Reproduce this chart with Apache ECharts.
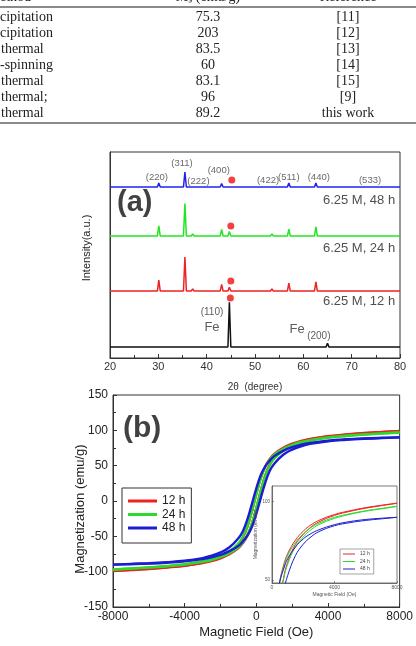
<!DOCTYPE html>
<html>
<head>
<meta charset="utf-8">
<script src="https://cdn.jsdelivr.net/npm/echarts@6/dist/echarts.min.js"></script>
<style>
  html, body { margin: 0; padding: 0; background: #fff; }
  #main { width: 416px; height: 646px; }
</style>
</head>
<body>
<div id="main"></div>
<script>
// table (cut at the left edge in the source)
var methods = ['cipitation', 'cipitation', 'thermal', '-spinning', 'thermal', 'thermal;', 'thermal'];
var msValues = ['75.3', '203', '83.5', '60', '83.1', '96', '89.2'];
var refs = ['[11]', '[12]', '[13]', '[14]', '[15]', '[9]', 'this work'];

// (a) XRD
var peakPos = [30.1, 35.5, 37.1, 43.1, 44.7, 53.5, 57.0, 62.6, 74.0];
var peaks48 = [1.9, 7.3, 0.7, 1.7, 0.3, 0.7, 1.9, 1.9, 0.5];
var peaks24 = [4.9, 15.8, 1.0, 3.2, 2.2, 1.0, 3.4, 4.4, 0.7];
var peaks12 = [5.3, 16.5, 1.0, 3.2, 1.9, 1.0, 3.9, 4.4, 0.7];
var fePos = [44.7, 65.0];
var feHeights = [21.8, 1.9];
var baselines = [83.0, 59.2, 32.5, 5.3]; // 48 h, 24 h, 12 h, Fe
var dotX = [45.2, 45.0, 45.0, 44.9];
var dotY = [86.4, 64.1, 37.4, 29.1];
var hklLabels = ['(220)', '(311)', '(222)', '(400)', '(422)', '(511)', '(440)', '(533)'];
var hklX = [29.7, 34.9, 38.3, 42.5, 52.7, 57.0, 63.2, 73.8];
var hklY = [87.9, 94.7, 85.9, 91.3, 86.4, 87.9, 87.9, 86.4];
var sampleLabels = ['6.25 M, 48 h', '6.25 M, 24 h', '6.25 M, 12 h'];
var sampleLabelY = [76.7, 53.4, 27.7];

// (b) M-H loops
var field = [-8000, -7000, -6000, -5000, -4000, -3000, -2500, -2000, -1500, -1000, -750, -500, -250, 0,
  250, 500, 750, 1000, 1500, 2000, 2500, 3000, 4000, 5000, 6000, 7000, 8000];
var red12Down = [-98.9, -97.4, -95.8, -93.8, -91.2, -87.0, -83.8, -79.0, -72.7, -61.2, -51.7, -36.6, -14.9, 9.9,
  32.7, 49.3, 59.6, 66.7, 75.4, 81.1, 85.2, 88.0, 91.8, 94.2, 96.2, 97.7, 99.1];
var red12Up = [-99.1, -97.7, -96.2, -94.2, -91.8, -88.0, -85.2, -81.1, -75.4, -66.7, -59.6, -49.3, -32.7, -9.9,
  14.9, 36.6, 51.7, 61.2, 72.7, 79.0, 83.8, 87.0, 91.2, 93.8, 95.8, 97.4, 98.9];
var green24Down = [-96.9, -95.4, -93.9, -91.9, -89.3, -85.3, -82.1, -77.4, -71.2, -59.9, -50.6, -35.9, -14.6, 9.7,
  32.0, 48.3, 58.4, 65.4, 73.9, 79.4, 83.5, 86.2, 90.0, 92.3, 94.2, 95.7, 97.1];
var green24Up = [-97.1, -95.7, -94.2, -92.3, -90.0, -86.2, -83.5, -79.4, -73.9, -65.4, -58.4, -48.3, -32.0, -9.7,
  14.6, 35.9, 50.6, 59.9, 71.2, 77.4, 82.1, 85.3, 89.3, 91.9, 93.9, 95.4, 96.9];
var blue48Down = [-90.0, -89.0, -88.0, -86.6, -84.6, -80.8, -77.5, -72.8, -65.5, -52.7, -42.7, -26.1, -4.5, 18.0,
  36.9, 49.1, 57.1, 63.5, 71.0, 76.2, 79.6, 82.0, 85.3, 87.3, 88.6, 89.4, 90.0];
var blue48Up = [-90.0, -89.4, -88.6, -87.3, -85.3, -82.0, -79.6, -76.2, -71.0, -63.5, -57.1, -49.1, -36.9, -18.0,
  4.5, 26.1, 42.7, 52.7, 65.5, 72.8, 77.5, 80.8, 84.6, 86.6, 88.0, 89.0, 90.0];
var loopNames = ['12 h', '24 h', '48 h'];
var loopColors = ['#ee2020', '#2ed82e', '#1c1cd2'];

var FONT = 'Liberation Sans, Arial, sans-serif';

function pattern(base, pos, hts) {
  var pts = [[20, base]];
  for (var i = 0; i < pos.length; i++) {
    pts.push([pos[i] - 0.3, base], [pos[i], base + hts[i]], [pos[i] + 0.3, base]);
  }
  pts.push([80, base]);
  return pts;
}
function pairs(xs, ys) {
  return xs.map(function (x, i) { return [x, ys[i]]; });
}
function plain(v) { return String(v); }

var chart = echarts.init(document.getElementById('main'));

var series = [];
var xrdColors = ['#2222ee', '#22e622', '#ee2222', '#111111'];
series.push({ type: 'line', xAxisIndex: 0, yAxisIndex: 0, data: pattern(baselines[3], fePos, feHeights),
  symbol: 'none', lineStyle: { color: xrdColors[3], width: 1.5 }, silent: true });
series.push({ type: 'line', xAxisIndex: 0, yAxisIndex: 0, data: pattern(baselines[2], peakPos, peaks12),
  symbol: 'none', lineStyle: { color: xrdColors[2], width: 1.5 }, silent: true });
series.push({ type: 'line', xAxisIndex: 0, yAxisIndex: 0, data: pattern(baselines[1], peakPos, peaks24),
  symbol: 'none', lineStyle: { color: xrdColors[1], width: 1.5 }, silent: true });
series.push({ type: 'line', xAxisIndex: 0, yAxisIndex: 0, data: pattern(baselines[0], peakPos, peaks48),
  symbol: 'none', lineStyle: { color: xrdColors[0], width: 1.5 }, silent: true });
series.push({ type: 'scatter', xAxisIndex: 0, yAxisIndex: 0, data: pairs(dotX, dotY),
  symbolSize: 7, itemStyle: { color: '#ee1111' }, silent: true });

function textSeries(xi, items, label) {
  return { type: 'scatter', xAxisIndex: xi, yAxisIndex: xi, symbolSize: 0, silent: true,
    data: items, label: Object.assign({ show: true, formatter: '{b}', fontFamily: FONT }, label) };
}
series.push(textSeries(0, hklLabels.map(function (t, i) { return { name: t, value: [hklX[i], hklY[i]] }; }),
  { position: 'inside', fontSize: 9.5, color: '#444' }));
series.push(textSeries(0, sampleLabels.map(function (t, i) { return { name: t, value: [79.0, sampleLabelY[i]] }; }),
  { position: 'left', distance: 0, fontSize: 13, color: '#222' }));
series.push(textSeries(0, [{ name: '(110)', value: [41.1, 22.3] }, { name: '(200)', value: [63.2, 10.7] }],
  { position: 'inside', fontSize: 10, color: '#333' }));
series.push(textSeries(0, [{ name: 'Fe', value: [41.1, 15.0] }, { name: 'Fe', value: [58.7, 14.1] }],
  { position: 'inside', fontSize: 13, color: '#333' }));
series.push(textSeries(0, [{ name: '(a)', value: [21.45, 75.2] }],
  { position: 'right', distance: 0, fontSize: 29, fontWeight: 'bold', color: '#111' }));
series.push(textSeries(1, [{ name: '(b)', value: [-7446, 102] }],
  { position: 'right', distance: 0, fontSize: 30, fontWeight: 'bold', color: '#111' }));

var downs = [red12Down, green24Down, blue48Down];
var ups = [red12Up, green24Up, blue48Up];
[1, 2].forEach(function (gi) {
  for (var k = 0; k < 3; k++) {
    [downs[k], ups[k]].forEach(function (ys) {
      series.push({ type: 'line', name: loopNames[k], xAxisIndex: gi, yAxisIndex: gi,
        data: pairs(field, ys), smooth: 0.4, symbol: 'none', silent: true, z: gi === 2 ? 8 : 2,
        itemStyle: { color: loopColors[k] },
        lineStyle: { color: loopColors[k], width: gi === 1 ? 2.4 : 1 } });
    });
  }
});

var tableGraphics = [
  { type: 'line', shape: { x1: 0, y1: 7, x2: 416, y2: 7 }, style: { stroke: '#8a8a8a', lineWidth: 2 } },
  { type: 'line', shape: { x1: 0, y1: 123, x2: 416, y2: 123 }, style: { stroke: '#8a8a8a', lineWidth: 2 } }
];
var headers = [['ethod', 0, 'left'], ['M\u209B (emu/g)', 208, 'center'], ['Reference', 348, 'center']];
headers.forEach(function (h) {
  tableGraphics.push({ type: 'text', x: h[1], y: -3, style: { text: h[0], font: '14px Liberation Serif',
    fill: '#222', align: h[2], verticalAlign: 'middle', textAlign: h[2], textVerticalAlign: 'middle' } });
});
for (var r = 0; r < methods.length; r++) {
  var y = 17 + r * 16;
  [[methods[r], methods[r] === 'cipitation' || methods[r] === '-spinning' ? 0 : 1, 'left'],
   [msValues[r], 208, 'center'], [refs[r], 348, 'center']].forEach(function (c) {
    tableGraphics.push({ type: 'text', x: c[1], y: y, style: { text: c[0], font: '14px Liberation Serif',
      fill: '#222', align: c[2], verticalAlign: 'middle', textAlign: c[2], textVerticalAlign: 'middle' } });
  });
}
function vText(t, x, y, size) {
  return { type: 'text', x: x, y: y, rotation: Math.PI / 2, style: { text: t, font: size + 'px ' + FONT,
    fill: '#222', align: 'center', verticalAlign: 'middle', textAlign: 'center', textVerticalAlign: 'middle' } };
}
tableGraphics.push(vText('Intensity(a.u.)', 87, 248, 11));
tableGraphics.push(vText('Magnetization (emu/g)', 80, 509, 13));

var axisLine = { onZero: false, lineStyle: { color: '#333', width: 1 } };
var insetLine = { onZero: false, lineStyle: { color: '#555', width: 0.8 } };

var option = {
  animation: false,
  backgroundColor: '#fff',
  graphic: tableGraphics,
  grid: [
    { left: 110, top: 152, width: 290, height: 206, show: true, borderColor: '#333', borderWidth: 1 },
    { left: 113, top: 395, width: 289, height: 212, show: true, borderColor: '#333', borderWidth: 1 },
    { left: 272, top: 486, width: 125, height: 97, show: true, borderColor: '#555', borderWidth: 0.8,
      backgroundColor: '#fff', z: 5 }
  ],
  legend: [
    { data: loopNames, orient: 'vertical', left: 122, top: 488, icon: 'rect', itemWidth: 29, itemHeight: 3,
      itemGap: 1.5, padding: [7, 6, 9, 6], borderColor: '#333', borderWidth: 1, selectedMode: false,
      textStyle: { fontSize: 12, lineHeight: 12, color: '#222', fontFamily: FONT } },
    { data: loopNames, orient: 'vertical', left: 340, top: 549, icon: 'rect', itemWidth: 12, itemHeight: 1,
      itemGap: 1.5, padding: [2, 4, 2, 3], borderColor: '#666', borderWidth: 0.6, selectedMode: false, z: 9,
      textStyle: { fontSize: 5, lineHeight: 6, color: '#444', fontFamily: FONT } }
  ],
  xAxis: [
    { gridIndex: 0, type: 'value', min: 20, max: 80, interval: 10, splitLine: { show: false },
      axisLine: axisLine, axisTick: { inside: true, length: 4, lineStyle: { color: '#333' } },
      minorTick: { show: true, splitNumber: 2, length: 3, lineStyle: { color: '#333' } },
      axisLabel: { fontSize: 11, color: '#333', margin: 3, fontFamily: FONT, formatter: plain },
      name: '2\u03B8  (degree)', nameLocation: 'middle', nameGap: 24,
      nameTextStyle: { fontSize: 10, color: '#333', fontFamily: FONT } },
    { gridIndex: 1, type: 'value', min: -8000, max: 8000, interval: 4000, splitLine: { show: false },
      axisLine: axisLine, axisTick: { inside: true, length: 4, lineStyle: { color: '#333' } },
      minorTick: { show: true, splitNumber: 2, length: 3, lineStyle: { color: '#333' } },
      axisLabel: { fontSize: 12, color: '#222', margin: 4, fontFamily: FONT, formatter: plain },
      name: 'Magnetic Field (Oe)', nameLocation: 'middle', nameGap: 19,
      nameTextStyle: { fontSize: 13, color: '#222', fontFamily: FONT } },
    { gridIndex: 2, type: 'value', min: 0, max: 8000, interval: 4000, splitLine: { show: false },
      axisLine: insetLine, z: 8,
      axisTick: { inside: true, length: 2, lineStyle: { color: '#555', width: 0.6 } },
      axisLabel: { fontSize: 5, color: '#555', margin: 2, fontFamily: FONT, formatter: plain },
      name: 'Magnetic Field (Oe)', nameLocation: 'middle', nameGap: 9,
      nameTextStyle: { fontSize: 5, color: '#555', fontFamily: FONT } }
  ],
  yAxis: [
    { gridIndex: 0, type: 'value', min: 0, max: 100, splitLine: { show: false }, axisLine: axisLine,
      axisTick: { show: false }, axisLabel: { show: false } },
    { gridIndex: 1, type: 'value', min: -150, max: 150, interval: 50, splitLine: { show: false },
      axisLine: axisLine, axisTick: { inside: true, length: 4, lineStyle: { color: '#333' } },
      minorTick: { show: true, splitNumber: 2, length: 3, lineStyle: { color: '#333' } },
      axisLabel: { fontSize: 12, color: '#222', margin: 5, fontFamily: FONT, formatter: plain } },
    { gridIndex: 2, type: 'value', min: 48, max: 110, splitLine: { show: false },
      axisLine: insetLine, z: 8,
      axisTick: { inside: true, length: 2, customValues: [50, 100], lineStyle: { color: '#555', width: 0.6 } },
      axisLabel: { fontSize: 4.5, color: '#555', margin: 2, customValues: [50, 100], fontFamily: FONT },
      name: 'Magnetization (emu/g)', nameLocation: 'middle', nameGap: 8,
      nameTextStyle: { fontSize: 5, color: '#555', fontFamily: FONT } }
  ],
  series: series
};
chart.setOption(option);
</script>
</body>
</html>
